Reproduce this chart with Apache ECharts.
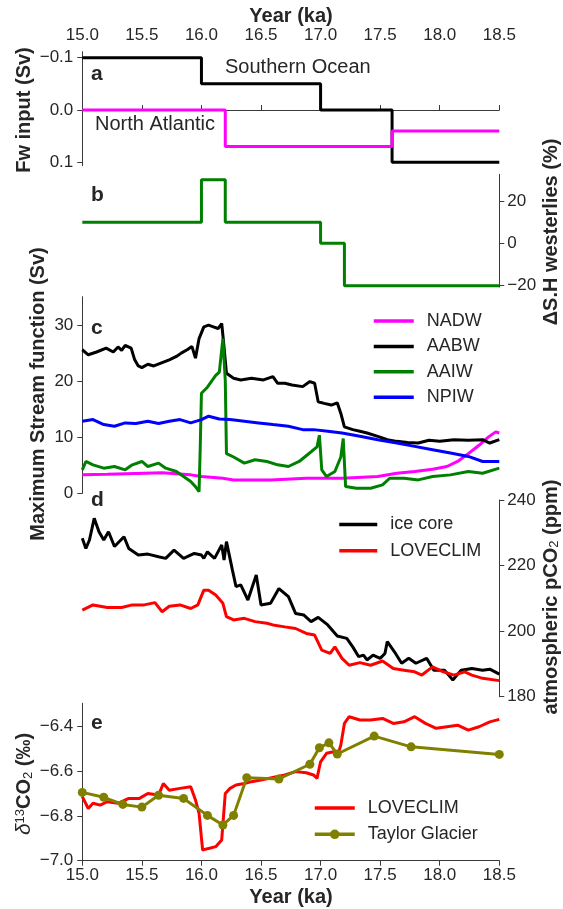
<!DOCTYPE html>
<html>
<head>
<meta charset="utf-8">
<script src="https://cdn.jsdelivr.net/npm/echarts@6/dist/echarts.min.js"></script>
<style>
  html, body { margin: 0; padding: 0; background: #fff; }
  #main { width: 563px; height: 909px; }
</style>
</head>
<body>
<div id="main"></div>
<script>
// ---- data (x in ka) ----
var yearTicks = [15.0, 15.5, 16.0, 16.5, 17.0, 17.5, 18.0, 18.5]

// a: freshwater input (Sv), step changes
var southernOcean = [[15.0, -0.1], [16.0, -0.05], [17.0, 0.0], [17.6, 0.1], [18.5, 0.1]]
var northAtlantic = [[15.0, 0.0], [16.2, 0.07], [17.6, 0.04], [18.5, 0.04]]
var fwTicks = [-0.1, 0.0, 0.1]

// b: change of SH westerlies (%)
var westerlies = [[15.0, 10], [16.0, 30], [16.2, 10], [17.0, 0], [17.2, -20], [18.5, -20]]
var windTicks = [-20, 0, 20]

// c: maximum stream function (Sv)
var nadw = [[15.0, 3.3], [15.21, 3.4], [15.52, 3.6], [15.67, 3.7], [15.91, 3.3], [16.0, 3.0],
  [16.18, 2.7], [16.27, 2.4], [16.58, 2.4], [16.88, 2.7], [17.18, 2.7], [17.48, 3.0],
  [17.64, 3.6], [17.79, 3.9], [17.94, 4.3], [18.06, 4.8], [18.15, 5.7], [18.24, 7.1],
  [18.33, 8.6], [18.41, 10.1], [18.47, 11.0], [18.5, 10.8]]
var aabw = [[15.0, 25.7], [15.05, 24.8], [15.12, 25.3], [15.2, 26.0], [15.21, 26.2], [15.26, 25.3],
  [15.3, 26.2], [15.33, 25.6], [15.36, 26.5], [15.41, 26.0], [15.44, 23.9], [15.47, 22.8],
  [15.5, 22.5], [15.55, 23.1], [15.6, 22.8], [15.67, 23.4], [15.73, 23.9], [15.79, 24.5],
  [15.83, 25.1], [15.88, 25.7], [15.92, 26.3], [15.95, 24.2], [15.98, 27.7], [16.02, 29.8],
  [16.06, 30.1], [16.1, 29.8], [16.14, 29.5], [16.17, 30.4], [16.18, 28.3], [16.21, 21.5],
  [16.27, 20.6], [16.33, 20.3], [16.42, 20.6], [16.52, 20.3], [16.6, 20.9], [16.64, 19.7],
  [16.7, 19.7], [16.76, 19.4], [16.85, 19.1], [16.91, 20.0], [16.95, 19.7], [16.98, 16.4],
  [17.03, 16.1], [17.09, 15.8], [17.14, 16.2], [17.17, 14.3], [17.2, 11.9], [17.27, 11.4],
  [17.33, 11.1], [17.39, 10.8], [17.48, 10.2], [17.56, 9.6], [17.64, 9.3], [17.73, 9.1],
  [17.82, 9.0], [17.91, 9.5], [18.0, 9.3], [18.12, 9.6], [18.24, 9.5], [18.36, 9.6],
  [18.42, 9.0], [18.5, 9.6]]
var aaiw = [[15.0, 4.2], [15.03, 5.7], [15.09, 5.1], [15.18, 4.5], [15.27, 4.8], [15.36, 4.2],
  [15.42, 5.1], [15.5, 5.7], [15.55, 4.8], [15.64, 5.4], [15.7, 4.5], [15.79, 3.9],
  [15.85, 3.0], [15.91, 2.1], [15.95, 1.2], [15.98, 0.3], [15.99, 8.3], [16.0, 17.9],
  [16.05, 19.0], [16.09, 20.2], [16.12, 21.1], [16.15, 21.7], [16.18, 27.7], [16.2, 20.2],
  [16.21, 7.1], [16.27, 6.5], [16.36, 5.4], [16.45, 6.0], [16.55, 5.7], [16.64, 5.1],
  [16.73, 4.8], [16.82, 5.7], [16.89, 6.9], [16.97, 8.3], [16.99, 10.4], [17.01, 4.2],
  [17.05, 3.0], [17.12, 3.9], [17.17, 6.5], [17.19, 9.8], [17.21, 1.2], [17.3, 0.9],
  [17.42, 0.9], [17.52, 1.5], [17.58, 2.7], [17.7, 2.7], [17.82, 2.4], [17.94, 3.0],
  [18.09, 3.3], [18.24, 3.9], [18.36, 3.6], [18.5, 4.5]]
var npiw = [[15.0, 12.9], [15.09, 13.2], [15.18, 12.3], [15.27, 12.0], [15.36, 12.6], [15.45, 12.5],
  [15.55, 12.9], [15.64, 12.5], [15.73, 12.9], [15.82, 13.2], [15.91, 12.6], [16.0, 13.2],
  [16.06, 13.8], [16.15, 13.3], [16.24, 13.2], [16.36, 12.9], [16.48, 12.6], [16.6, 12.3],
  [16.73, 12.0], [16.85, 11.4], [16.94, 11.4], [17.06, 11.1], [17.18, 10.8], [17.33, 10.2],
  [17.48, 9.6], [17.64, 9.0], [17.79, 8.4], [17.94, 7.8], [18.09, 7.2], [18.24, 6.6],
  [18.36, 5.7], [18.5, 5.7]]
var streamTicks = [0, 10, 20, 30]

// d: atmospheric pCO2 (ppm)
var iceCore = [[15.0, 228.3], [15.03, 225.2], [15.06, 227.8], [15.1, 234.4], [15.14, 230.3],
  [15.18, 227.8], [15.22, 230.3], [15.27, 225.8], [15.35, 228.8], [15.39, 225.2], [15.47, 223.2],
  [15.55, 223.5], [15.64, 222.7], [15.7, 222.2], [15.77, 224.7], [15.85, 222.2], [15.94, 223.7],
  [16.0, 223.2], [16.02, 222.2], [16.05, 224.2], [16.11, 222.2], [16.17, 226.3], [16.19, 221.7],
  [16.21, 227.3], [16.26, 218.6], [16.29, 213.6], [16.33, 214.1], [16.39, 209.5], [16.46, 217.1],
  [16.5, 208.0], [16.58, 208.5], [16.65, 213.0], [16.73, 210.5], [16.79, 205.4], [16.86, 204.9],
  [16.92, 202.9], [16.98, 204.2], [17.06, 201.9], [17.14, 198.5], [17.22, 197.8], [17.27, 195.2],
  [17.32, 192.2], [17.36, 192.7], [17.39, 191.2], [17.44, 192.7], [17.5, 191.7], [17.54, 193.2],
  [17.56, 196.8], [17.62, 193.7], [17.68, 190.2], [17.74, 191.7], [17.8, 190.2], [17.89, 191.7],
  [17.95, 188.1], [18.04, 188.1], [18.11, 185.1], [18.18, 188.1], [18.27, 188.6], [18.36, 188.1],
  [18.42, 188.4], [18.5, 186.9]]
var loveclimCo2 = [[15.0, 206.4], [15.09, 208.0], [15.21, 207.2], [15.33, 207.2], [15.42, 208.0],
  [15.52, 208.0], [15.61, 208.7], [15.67, 205.9], [15.73, 207.6], [15.82, 208.0], [15.91, 206.9],
  [15.97, 208.0], [16.02, 212.5], [16.06, 212.5], [16.12, 211.0], [16.18, 208.5], [16.21, 204.4],
  [16.27, 203.4], [16.36, 203.9], [16.45, 202.9], [16.55, 202.4], [16.6, 201.9], [16.7, 201.3],
  [16.79, 200.8], [16.88, 199.3], [16.95, 198.8], [17.01, 194.2], [17.08, 193.2], [17.12, 195.2],
  [17.18, 191.7], [17.24, 189.6], [17.33, 190.4], [17.42, 189.6], [17.52, 190.9], [17.61, 188.6],
  [17.7, 188.1], [17.79, 187.6], [17.85, 186.6], [17.94, 189.1], [18.03, 187.6], [18.12, 186.6],
  [18.21, 187.6], [18.27, 186.6], [18.36, 185.6], [18.5, 184.9]]
var co2Ticks = [180, 200, 220, 240]

// e: d13CO2 (permil)
var loveclimD13 = [[15.0, -6.713], [15.05, -6.766], [15.09, -6.743], [15.15, -6.751], [15.21, -6.736],
  [15.3, -6.743], [15.39, -6.721], [15.48, -6.721], [15.55, -6.699], [15.64, -6.706], [15.68, -6.654],
  [15.73, -6.684], [15.82, -6.676], [15.91, -6.669], [15.95, -6.728], [15.98, -6.788], [16.01, -6.952],
  [16.06, -6.945], [16.12, -6.937], [16.17, -6.907], [16.2, -6.699], [16.24, -6.676], [16.29, -6.661],
  [16.36, -6.654], [16.42, -6.646], [16.52, -6.636], [16.6, -6.627], [16.7, -6.616], [16.79, -6.601],
  [16.88, -6.606], [16.94, -6.616], [16.97, -6.631], [17.0, -6.557], [17.05, -6.519], [17.11, -6.512],
  [17.14, -6.534], [17.17, -6.482], [17.2, -6.385], [17.24, -6.355], [17.33, -6.37], [17.42, -6.37],
  [17.52, -6.363], [17.61, -6.385], [17.7, -6.378], [17.79, -6.355], [17.88, -6.385], [17.97, -6.407],
  [18.06, -6.4], [18.15, -6.393], [18.24, -6.415], [18.33, -6.4], [18.42, -6.378], [18.5, -6.367]]
var taylorGlacier = [[15.0, -6.694], [15.18, -6.716], [15.34, -6.748], [15.5, -6.76], [15.64, -6.707],
  [15.85, -6.721], [16.05, -6.797], [16.18, -6.84], [16.27, -6.797], [16.38, -6.628], [16.65, -6.634],
  [16.91, -6.568], [16.99, -6.494], [17.07, -6.472], [17.14, -6.522], [17.45, -6.442], [17.76, -6.49],
  [18.5, -6.524]]
var d13Ticks = [-7.0, -6.8, -6.6, -6.4]

var FONT = 'Liberation Sans, Arial, Helvetica, sans-serif'
var INK = '#262626'
var AXIS = '#3a3a3a'

function minus (s) {
  return String(s).replace('-', '\u2212')
}

function xAx (i, pos) {
  return {
    gridIndex: i,
    type: 'value',
    min: 15,
    max: 18.5,
    interval: 0.5,
    show: pos !== null,
    position: pos || 'bottom',
    axisLine: { show: true, lineStyle: { color: AXIS, width: 1 } },
    axisTick: { show: true, length: 5, customValues: yearTicks, lineStyle: { color: AXIS } },
    axisLabel: {
      customValues: yearTicks,
      fontSize: 17, fontFamily: FONT, color: INK, margin: pos === 'top' ? 8 : 6,
      formatter: function (v) { return v.toFixed(1) }
    },
    splitLine: { show: false }
  }
}

function yAx (i, pos, min, max, ticks, digits, inverse) {
  return {
    gridIndex: i,
    type: 'value',
    position: pos,
    min: min,
    max: max,
    inverse: !!inverse,
    axisLine: { show: true, lineStyle: { color: AXIS, width: 1 } },
    axisTick: { show: true, length: 5, customValues: ticks, lineStyle: { color: AXIS } },
    axisLabel: {
      customValues: ticks,
      fontSize: 17, fontFamily: FONT, color: INK, margin: pos === 'left' ? 9 : 8,
      formatter: function (v) { return minus(v.toFixed(digits)) }
    },
    splitLine: { show: false }
  }
}

function line (name, data, color, xi, step) {
  return {
    name: name,
    type: 'line',
    xAxisIndex: xi,
    yAxisIndex: xi,
    data: data,
    step: step || false,
    symbol: 'none',
    lineStyle: { color: color, width: 3 },
    itemStyle: { color: color },
    z: 3
  }
}

function txt (x, y, text, size, weight, align, rot, rich) {
  return {
    type: 'text',
    x: x,
    y: y,
    rotation: rot || 0,
    style: {
      text: text,
      fontSize: size,
      fontWeight: weight,
      fontFamily: FONT,
      fill: INK,
      align: align,
      verticalAlign: 'middle',
      textAlign: align,
      textVerticalAlign: 'middle',
      rich: rich
    }
  }
}

// plain lines get no marker in the legend
function lineOnly (name) {
  return { name: name, itemStyle: { opacity: 0 } }
}

function legendAt (left, top, items, width, gap) {
  return {
    left: left,
    top: top,
    padding: 0,
    orient: 'vertical',
    itemWidth: width,
    itemHeight: 12,
    itemGap: gap,
    selectedMode: false,
    data: items,
    lineStyle: { width: 3.5 },
    textStyle: { fontSize: 18, fontFamily: FONT, color: INK, padding: [0, 0, 0, 8] }
  }
}

var subRich = {
  b: { fontSize: 20, fontWeight: 'bold', fontFamily: FONT, color: INK },
  d: { fontSize: 21, fontStyle: 'italic', fontWeight: 'normal', fontFamily: FONT, color: INK },
  sup: { fontSize: 13, fontWeight: 'normal', fontFamily: FONT, color: INK, verticalAlign: 'top' },
  sub: { fontSize: 13, fontWeight: 'normal', fontFamily: FONT, color: INK, verticalAlign: 'bottom' }
}

var grids = [
  { top: 51.7, height: 114 },
  { top: 174.3, height: 112.7 },
  { top: 296.7, height: 196.6 },
  { top: 500, height: 196.7 },
  { top: 703.3, height: 157.4 }
].map(function (g) { return { left: 82.3, right: 63.7, top: g.top, height: g.height } })

var chart = echarts.init(document.getElementById('main'), null, { renderer: 'canvas' })
chart.setOption({
  animation: false,
  backgroundColor: '#fff',
  grid: grids,
  xAxis: [xAx(0, 'top'), xAx(1, null), xAx(2, null), xAx(3, null), xAx(4, 'bottom')],
  yAxis: [
    yAx(0, 'left', -0.1115, 0.1065, fwTicks, 1, true),
    yAx(1, 'right', -20.6, 32.6, windTicks, 0),
    yAx(2, 'left', 0, 35.2, streamTicks, 0),
    yAx(3, 'right', 180, 240, co2Ticks, 0),
    yAx(4, 'left', -7.0, -6.295, d13Ticks, 1)
  ],
  legend: [
    legendAt(372, 312, ['NADW', 'AABW', 'AAIW', 'NPIW'].map(lineOnly), 40, 7.4),
    legendAt(337.5, 515.5, [lineOnly('ice core'), lineOnly('LOVECLIM')], 38, 8.3),
    legendAt(313, 799, [lineOnly('LOVECLIM'), 'Taylor Glacier'], 40, 8.3)
  ],
  series: [
    line('Southern Ocean', southernOcean, '#000000', 0, 'end'),
    line('North Atlantic', northAtlantic, '#ff00ff', 0, 'end'),
    line('S.H westerlies', westerlies, '#008000', 1, 'end'),
    line('NADW', nadw, '#ff00ff', 2),
    line('AABW', aabw, '#000000', 2),
    line('AAIW', aaiw, '#008000', 2),
    line('NPIW', npiw, '#0000ff', 2),
    line('ice core', iceCore, '#000000', 3),
    line('LOVECLIM', loveclimCo2, '#ff0000', 3),
    line('LOVECLIM', loveclimD13, '#ff0000', 4),
    {
      name: 'Taylor Glacier',
      type: 'line',
      xAxisIndex: 4,
      yAxisIndex: 4,
      data: taylorGlacier,
      symbol: 'circle',
      symbolSize: 9,
      lineStyle: { color: '#808000', width: 3 },
      itemStyle: { color: '#808000' },
      z: 4
    }
  ],
  graphic: [
    txt(291, 16, 'Year (ka)', 20, 'bold', 'center'),
    txt(291, 897, 'Year (ka)', 20, 'bold', 'center'),
    txt(225, 67, 'Southern Ocean', 20, 'normal', 'left'),
    txt(95, 124.3, 'North Atlantic', 20, 'normal', 'left'),
    txt(91, 74, 'a', 21, 'bold', 'left'),
    txt(91, 195, 'b', 21, 'bold', 'left'),
    txt(91, 328, 'c', 21, 'bold', 'left'),
    txt(91, 500.5, 'd', 21, 'bold', 'left'),
    txt(91, 723, 'e', 21, 'bold', 'left'),
    txt(24, 110, 'Fw input (Sv)', 20, 'bold', 'center', Math.PI / 2),
    txt(38, 394, 'Maximum Stream function (Sv)', 20, 'bold', 'center', Math.PI / 2),
    txt(551, 232, '\u0394S.H westerlies (%)', 20, 'bold', 'center', Math.PI / 2),
    txt(551, 597, '{b|atmospheric pCO}{sub|2}{b| (ppm)}', 20, 'bold', 'center', Math.PI / 2, subRich),
    txt(24.5, 784, '{d|\u03b4}{sup|13}{b|CO}{sub|2}{b| (\u2030)}', 20, 'bold', 'center', Math.PI / 2, subRich)
  ]
})
</script>
</body>
</html>
